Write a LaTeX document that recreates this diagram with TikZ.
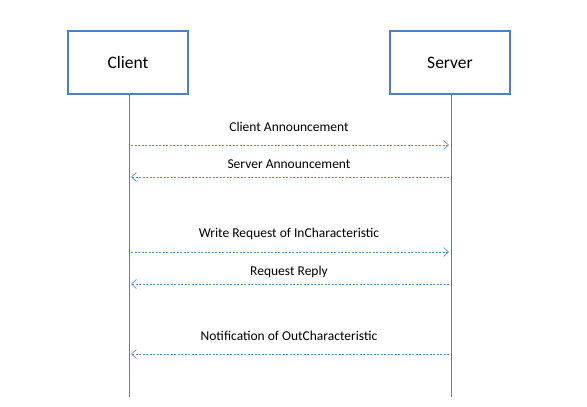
\documentclass[tikz,border=0pt]{standalone}
\usepackage{fontspec}
\setmainfont{Carlito}
\usetikzlibrary{arrows.meta}
\definecolor{obl}{HTML}{4F81BD}
\definecolor{abl}{HTML}{5B8FD0}
\begin{document}
\begin{tikzpicture}[x=1pt,y=-1pt,
  actor/.style={draw=obl,line width=1.6pt,minimum width=120pt,minimum height=63pt,inner sep=0pt,font=\fontsize{17.5}{20}\selectfont},
  life/.style={draw=obl,line width=0.8pt},
  msg/.style={draw=abl,line width=0.7pt,dash pattern=on 2pt off 1.5pt,-{Straight Barb[length=5pt,width=9pt,line width=0.6pt]}},
  lbl/.style={font=\fontsize{13.5}{16}\selectfont,text=black,inner sep=0pt}]
\useasboundingbox (0,0) rectangle (587,407);
\node[actor] (client) at (128,62.5) {Client};
\node[actor] (server) at (450,62.5) {Server};
\coordinate (cb) at (129,397);
\coordinate (sb) at (451,397);
\draw[life] (client.south -| cb) -- (cb);
\draw[life] (server.south -| sb) -- (sb);
\coordinate (c1) at (131,145); \coordinate (s1) at (449,145);
\coordinate (c2) at (131,177); \coordinate (s2) at (449,177);
\coordinate (c3) at (131,252); \coordinate (s3) at (449,252);
\coordinate (c4) at (131,284); \coordinate (s4) at (449,284);
\coordinate (c5) at (131,354); \coordinate (s5) at (449,354);
\draw[msg] (c1) -- (s1);
\draw[msg] (s2) -- (c2);
\draw[msg] (c3) -- (s3);
\draw[msg] (s4) -- (c4);
\draw[msg] (s5) -- (c5);
\node[lbl] (l1) at (289,127) {Client Announcement};
\node[lbl] (l2) at (289,164) {Server Announcement};
\node[lbl] (l3) at (289,234) {Write Request of InCharacteristic};
\node[lbl] (l4) at (289,272) {Request Reply};
\node[lbl] (l5) at (289,336) {Notification of OutCharacteristic};
\end{tikzpicture}
\end{document}
